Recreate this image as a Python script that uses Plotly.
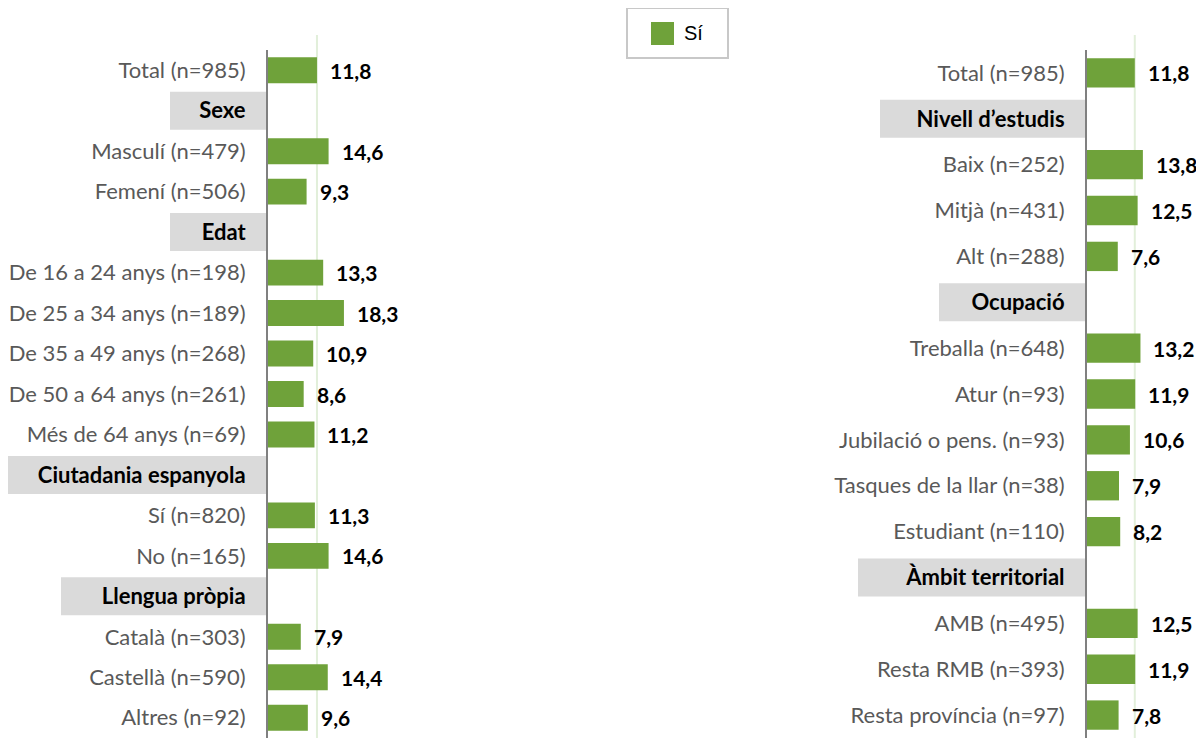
import plotly.graph_objects as go

# data
left_labels = ["Total (n=985)", "Sexe", "Masculí (n=479)", "Femení (n=506)", "Edat",
               "De 16 a 24 anys (n=198)", "De 25 a 34 anys (n=189)", "De 35 a 49 anys (n=268)",
               "De 50 a 64 anys (n=261)", "Més de 64 anys (n=69)", "Ciutadania espanyola",
               "Sí (n=820)", "No (n=165)", "Llengua pròpia", "Català (n=303)",
               "Castellà (n=590)", "Altres (n=92)"]
left_values = [11.8, None, 14.6, 9.3, None, 13.3, 18.3, 10.9, 8.6, 11.2, None,
               11.3, 14.6, None, 7.9, 14.4, 9.6]

right_labels = ["Total (n=985)", "Nivell d’estudis", "Baix (n=252)", "Mitjà (n=431)",
                "Alt (n=288)", "Ocupació", "Treballa (n=648)", "Atur (n=93)",
                "Jubilació o pens. (n=93)", "Tasques de la llar (n=38)", "Estudiant (n=110)",
                "Àmbit territorial", "AMB (n=495)", "Resta RMB (n=393)", "Resta província (n=97)"]
right_values = [11.8, None, 13.8, 12.5, 7.6, None, 13.2, 11.9, 10.6, 7.9, 8.2, None,
                12.5, 11.9, 7.8]

series_name = "Sí"

# style
OFF = 8                           # page body margin
W, H = 1204 - OFF, 746 - 2 * OFF  # figure size (no vertical scroll)
GREEN = "#6FA23A"
REF_LINE = "#E2EFDA"
BOX_GRAY = "#DADADA"
LABEL_GRAY = "#595959"
FONT = "Lato"
header_box_px = {"Sexe": 98, "Edat": 98, "Ciutadania espanyola": 263, "Llengua pròpia": 207,
                 "Nivell d’estudis": 207, "Ocupació": 148, "Àmbit territorial": 229}
top_px, bottom_px = 50, 738
panels = [
    dict(labels=left_labels, values=left_values, axis_px=268, px_per_unit=4.15, xa="x", ya="y"),
    dict(labels=right_labels, values=right_values, axis_px=1087, px_per_unit=4.05, xa="x2", ya="y2"),
]
x_max = 20


def px_x(px):
    return (px - OFF) / W


def px_y(py):
    return 1 - (py - OFF) / H


def fmt(v):
    return f"{v:.1f}".replace(".", ",")


fig = go.Figure()
shapes, annotations = [], []

for k, p in enumerate(panels):
    n = len(p["labels"])
    row_px = (bottom_px - top_px) / n
    idx = list(range(n))
    vals = p["values"]

    fig.add_trace(go.Bar(
        x=vals, y=idx, orientation="h", width=0.64, name=series_name,
        marker=dict(color=GREEN, line=dict(width=0)),
        xaxis=p["xa"], yaxis=p["ya"], showlegend=False, cliponaxis=False,
        hoverinfo="skip",
    ))

    ticktext = []
    for i, (lab, v) in enumerate(zip(p["labels"], vals)):
        if v is None:
            ticktext.append(f'<span style="color:black"><b>{lab}</b></span>')
            half = 19 / row_px
            shapes.append(dict(
                type="rect", xref="paper", yref=p["ya"],
                x0=px_x(p["axis_px"] - header_box_px[lab]), x1=px_x(p["axis_px"]),
                y0=i - half, y1=i + half,
                fillcolor=BOX_GRAY, line=dict(width=0), layer="below",
            ))
        else:
            ticktext.append(lab)
            annotations.append(dict(
                x=v, y=i, xref=p["xa"], yref=p["ya"], text=f"<b>{fmt(v)}</b>",
                showarrow=False, xanchor="left", xshift=11,
                font=dict(family=FONT, size=21, color="black"),
            ))

    # total reference line
    shapes.append(dict(
        type="line", xref=p["xa"], yref="paper",
        x0=vals[0], x1=vals[0], y0=0, y1=px_y(35),
        line=dict(color=REF_LINE, width=2), layer="below",
    ))

    suffix = "" if k == 0 else "2"
    fig.update_layout(**{
        "xaxis" + suffix: dict(domain=[px_x(p["axis_px"]),
                                       px_x(p["axis_px"] + x_max * p["px_per_unit"])],
                               range=[0, x_max], visible=False,
                               anchor=p["ya"], fixedrange=True),
        "yaxis" + suffix: dict(domain=[max(0, px_y(bottom_px)), px_y(top_px)],
                               range=[n - 0.5, -0.5], anchor=p["xa"],
                               tickvals=idx, ticktext=ticktext,
                               showline=True, linecolor="#808080", linewidth=2,
                               showgrid=False, zeroline=False,
                               ticks="outside", ticklen=16, tickcolor="rgba(0,0,0,0)",
                               tickfont=dict(family=FONT, size=22, color=LABEL_GRAY),
                               automargin=False, fixedrange=True),
    })

# legend box (drawn by hand to match the swatch size)
shapes += [
    dict(type="rect", xref="paper", yref="paper",
         x0=px_x(627), x1=px_x(728), y0=px_y(58), y1=px_y(8),
         line=dict(color="#C8C8C8", width=2), fillcolor="white"),
    dict(type="rect", xref="paper", yref="paper",
         x0=px_x(651), x1=px_x(674), y0=px_y(45), y1=px_y(22),
         line=dict(width=0), fillcolor=GREEN),
]
annotations.append(dict(
    x=px_x(682), y=px_y(33), xref="paper", yref="paper", text=series_name,
    showarrow=False, xanchor="left", yanchor="middle",
    font=dict(family="Liberation Sans", size=20, color="black"),
))

fig.update_layout(
    width=W, height=H,
    margin=dict(l=0, r=0, t=0, b=0),
    paper_bgcolor="white", plot_bgcolor="white",
    shapes=shapes, annotations=annotations,
    showlegend=False,
)

fig.write_html("out.html")
